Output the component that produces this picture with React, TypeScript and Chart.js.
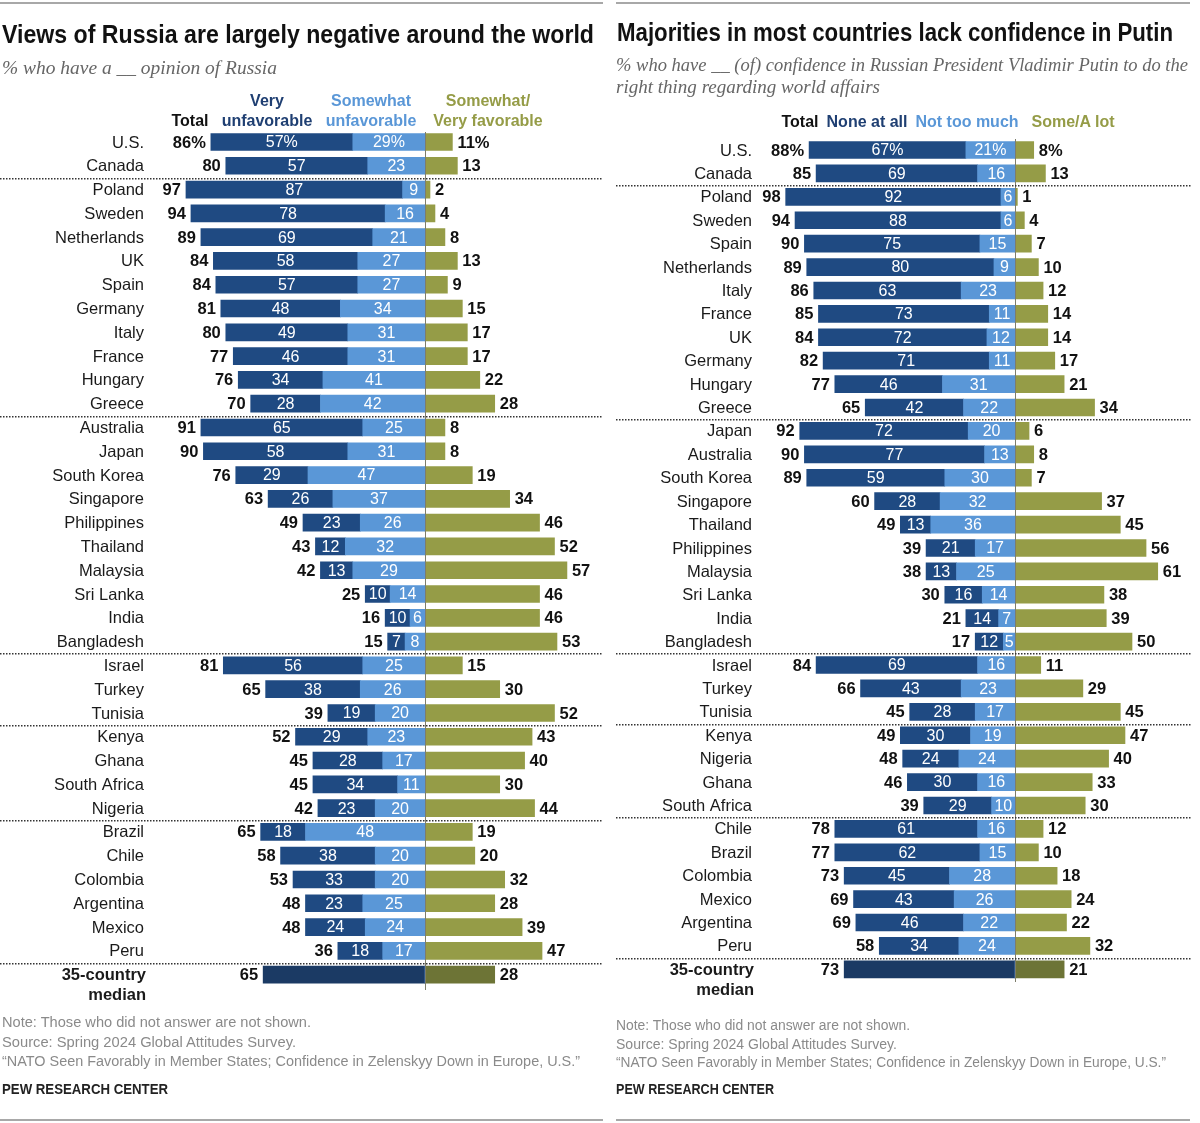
import React, { useEffect, useLayoutEffect, useRef } from "react";
import { Chart, registerables } from "chart.js";
Chart.register(...registerables);

// ---------------- Data: views of Russia ----------------
const RUSSIA_COUNTRIES = ["U.S.", "Canada", "Poland", "Sweden", "Netherlands", "UK", "Spain", "Germany", "Italy", "France", "Hungary", "Greece", "Australia", "Japan", "South Korea", "Singapore", "Philippines", "Thailand", "Malaysia", "Sri Lanka", "India", "Bangladesh", "Israel", "Turkey", "Tunisia", "Kenya", "Ghana", "South Africa", "Nigeria", "Brazil", "Chile", "Colombia", "Argentina", "Mexico", "Peru"];
const RUSSIA_TOTAL_UNFAV = [86, 80, 97, 94, 89, 84, 84, 81, 80, 77, 76, 70, 91, 90, 76, 63, 49, 43, 42, 25, 16, 15, 81, 65, 39, 52, 45, 45, 42, 65, 58, 53, 48, 48, 36];
const RUSSIA_VERY_UNFAV = [57, 57, 87, 78, 69, 58, 57, 48, 49, 46, 34, 28, 65, 58, 29, 26, 23, 12, 13, 10, 10, 7, 56, 38, 19, 29, 28, 34, 23, 18, 38, 33, 23, 24, 18];
const RUSSIA_SOMEWHAT_UNFAV = [29, 23, 9, 16, 21, 27, 27, 34, 31, 31, 41, 42, 25, 31, 47, 37, 26, 32, 29, 14, 6, 8, 25, 26, 20, 23, 17, 11, 20, 48, 20, 20, 25, 24, 17];
const RUSSIA_FAVORABLE = [11, 13, 2, 4, 8, 13, 9, 15, 17, 17, 22, 28, 8, 8, 19, 34, 46, 52, 57, 46, 46, 53, 15, 30, 52, 43, 40, 30, 44, 19, 20, 32, 28, 39, 47];
const RUSSIA_MEDIAN_UNFAV = 65;
const RUSSIA_MEDIAN_FAV = 28;

// ---------------- Data: confidence in Putin ----------------
const PUTIN_COUNTRIES = ["U.S.", "Canada", "Poland", "Sweden", "Spain", "Netherlands", "Italy", "France", "UK", "Germany", "Hungary", "Greece", "Japan", "Australia", "South Korea", "Singapore", "Thailand", "Philippines", "Malaysia", "Sri Lanka", "India", "Bangladesh", "Israel", "Turkey", "Tunisia", "Kenya", "Nigeria", "Ghana", "South Africa", "Chile", "Brazil", "Colombia", "Mexico", "Argentina", "Peru"];
const PUTIN_TOTAL_NO_CONF = [88, 85, 98, 94, 90, 89, 86, 85, 84, 82, 77, 65, 92, 90, 89, 60, 49, 39, 38, 30, 21, 17, 84, 66, 45, 49, 48, 46, 39, 78, 77, 73, 69, 69, 58];
const PUTIN_NONE_AT_ALL = [67, 69, 92, 88, 75, 80, 63, 73, 72, 71, 46, 42, 72, 77, 59, 28, 13, 21, 13, 16, 14, 12, 69, 43, 28, 30, 24, 30, 29, 61, 62, 45, 43, 46, 34];
const PUTIN_NOT_TOO_MUCH = [21, 16, 6, 6, 15, 9, 23, 11, 12, 11, 31, 22, 20, 13, 30, 32, 36, 17, 25, 14, 7, 5, 16, 23, 17, 19, 24, 16, 10, 16, 15, 28, 26, 22, 24];
const PUTIN_SOME_A_LOT = [8, 13, 1, 4, 7, 10, 12, 14, 14, 17, 21, 34, 6, 8, 7, 37, 45, 56, 61, 38, 39, 50, 11, 29, 45, 47, 40, 33, 30, 12, 10, 18, 24, 22, 32];
const PUTIN_MEDIAN_NO_CONF = 73;
const PUTIN_MEDIAN_CONF = 21;

// last row index of each regional group (dotted separator drawn after it)
const GROUP_ENDS = [1, 11, 21, 24, 28, 34];
const MEDIAN_LABEL = ["35-country", "median"];

// ---------------- Styles ----------------
const H = 1123;
const C = {
  strong: "#1f4a82",
  mid: "#5a97d7",
  pos: "#959c47",
  medianBlue: "#1b3a64",
  medianOlive: "#6d7436",
  zero: "#7d7d6a",
  text: "#111111",
};
const SANS = "'Liberation Sans', Arial, sans-serif";
const SERIF = "'Liberation Serif', 'DejaVu Serif', serif";

type Cfg = {
  left: number; width: number; zero: number; px: number; xMin: number; xMax: number;
  rowTop: number; rowStep: number; countryX: number; sepX0: number; sepX1: number;
  zeroTop: number; zeroBottom: number;
};

const LEFT_CFG: Cfg = { left: 0, width: 605, zero: 425, px: 2.49, xMin: -110, xMax: 70, rowTop: 142, rowStep: 23.79, countryX: 144, sepX0: 0, sepX1: 601, zeroTop: 132, zeroBottom: 990 };
const RIGHT_CFG: Cfg = { left: 605, width: 595, zero: 1015, px: 2.34, xMin: -110, xMax: 75, rowTop: 150, rowStep: 23.41, countryX: 752, sepX0: 616, sepX1: 1190, zeroTop: 139, zeroBottom: 982 };

type PanelData = {
  countries: string[]; total: number[]; strong: number[]; mid: number[]; pos: number[];
  medianTotal: number; medianPos: number; names: string[];
};

const RUSSIA: PanelData = {
  countries: RUSSIA_COUNTRIES, total: RUSSIA_TOTAL_UNFAV, strong: RUSSIA_VERY_UNFAV, mid: RUSSIA_SOMEWHAT_UNFAV,
  pos: RUSSIA_FAVORABLE, medianTotal: RUSSIA_MEDIAN_UNFAV, medianPos: RUSSIA_MEDIAN_FAV,
  names: ["Very unfavorable", "Somewhat unfavorable", "Somewhat/Very favorable"],
};
const PUTIN: PanelData = {
  countries: PUTIN_COUNTRIES, total: PUTIN_TOTAL_NO_CONF, strong: PUTIN_NONE_AT_ALL, mid: PUTIN_NOT_TOO_MUCH,
  pos: PUTIN_SOME_A_LOT, medianTotal: PUTIN_MEDIAN_NO_CONF, medianPos: PUTIN_MEDIAN_CONF,
  names: ["None at all", "Not too much", "Some/A lot"],
};

function makeLabelPlugin(cfg: Cfg, d: PanelData) {
  return {
    id: "rowLabels",
    afterDatasetsDraw(chart: any) {
      const ctx = chart.ctx as CanvasRenderingContext2D;
      const xs = chart.scales.x;
      const ys = chart.scales.y;
      const n = d.countries.length + 1;
      const off = cfg.left;
      ctx.save();
      // zero line
      const x0 = Math.round(xs.getPixelForValue(0)) + 0.5;
      ctx.strokeStyle = C.zero;
      ctx.lineWidth = 1;
      ctx.beginPath();
      ctx.moveTo(x0, cfg.zeroTop);
      ctx.lineTo(x0, cfg.zeroBottom);
      ctx.stroke();
      // dotted separators
      ctx.fillStyle = "#333";
      for (const g of GROUP_ENDS) {
        const y = Math.round((ys.getPixelForValue(g) + ys.getPixelForValue(g + 1)) / 2);
        for (let x = cfg.sepX0 - off; x < cfg.sepX1 - off; x += 3) ctx.fillRect(x, y, 1.5, 1.5);
      }
      const m0 = chart.getDatasetMeta(0);
      const m1 = chart.getDatasetMeta(1);
      const m2 = chart.getDatasetMeta(2);
      ctx.textBaseline = "middle";
      for (let i = 0; i < n; i++) {
        const y = ys.getPixelForValue(i) + 1;
        const isMedian = i === n - 1;
        const pct = i === 0 ? "%" : "";
        // country label
        ctx.fillStyle = "#1a1a1a";
        ctx.textAlign = "right";
        if (isMedian) {
          ctx.font = `bold 16.5px ${SANS}`;
          ctx.fillText(MEDIAN_LABEL[0], cfg.countryX - off + 2, y);
          ctx.fillText(MEDIAN_LABEL[1], cfg.countryX - off + 2, y + 20);
        } else {
          ctx.font = `16.5px ${SANS}`;
          ctx.fillText(d.countries[i], cfg.countryX - off, y);
        }
        const eMid = m0.data[i];
        const eStrong = m1.data[i];
        const ePos = m2.data[i];
        // segment labels
        ctx.fillStyle = "#ffffff";
        ctx.textAlign = "center";
        ctx.font = `16px ${SANS}`;
        if (!isMedian) {
          ctx.fillText(String(d.mid[i]) + pct, (eMid.x + eMid.base) / 2, y);
          ctx.fillText(String(d.strong[i]) + pct, (eStrong.x + eStrong.base) / 2, y);
        }
        // total label
        const leftEdge = Math.min(eStrong.x, eMid.x);
        const totalVal = isMedian ? d.medianTotal : d.total[i];
        ctx.fillStyle = C.text;
        ctx.font = `bold 16.5px ${SANS}`;
        ctx.textAlign = "right";
        ctx.fillText(String(totalVal) + pct, leftEdge - 5, y);
        // positive label
        const posVal = isMedian ? d.medianPos : d.pos[i];
        ctx.textAlign = "left";
        ctx.fillText(String(posVal) + pct, ePos.x + 5, y);
      }
      ctx.restore();
    },
  };
}

function BarPanel({ cfg, data }: { cfg: Cfg; data: PanelData }) {
  const ref = useRef<HTMLCanvasElement>(null);
  useEffect(() => {
    const canvas = ref.current!;
    const n = data.countries.length + 1;
    const labels = [...data.countries, MEDIAN_LABEL.join(" ")];
    const zeroL = cfg.zero - cfg.left;
    const padLeft = zeroL - cfg.px * -cfg.xMin;
    const padRight = cfg.width - (zeroL + cfg.px * cfg.xMax);
    const padTop = cfg.rowTop - cfg.rowStep / 2;
    const padBottom = H - (padTop + n * cfg.rowStep);
    const chart = new Chart(canvas, {
      type: "bar",
      data: {
        labels,
        datasets: [
          { label: data.names[1], data: [...data.mid.map((v) => -v), 0], backgroundColor: [...data.mid.map(() => C.mid), C.mid] },
          { label: data.names[0], data: [...data.strong.map((v) => -v), -data.medianTotal], backgroundColor: [...data.strong.map(() => C.strong), C.medianBlue] },
          { label: data.names[2], data: [...data.pos, data.medianPos], backgroundColor: [...data.pos.map(() => C.pos), C.medianOlive] },
        ],
      },
      options: {
        indexAxis: "y",
        responsive: false,
        animation: false,
        devicePixelRatio: 1,
        events: [],
        layout: { padding: { left: padLeft, right: padRight, top: padTop, bottom: padBottom } },
        scales: {
          x: { stacked: true, min: cfg.xMin, max: cfg.xMax, display: false },
          y: { stacked: true, display: false },
        },
        plugins: { legend: { display: false }, tooltip: { enabled: false } },
        datasets: { bar: { barThickness: 17, borderWidth: 0 } },
      } as any,
      plugins: [makeLabelPlugin(cfg, data)],
    });
    return () => chart.destroy();
  }, []);
  return (
    <canvas
      ref={ref}
      width={cfg.width}
      height={H}
      style={{ position: "absolute", left: cfg.left, top: 0, width: cfg.width, height: H }}
    />
  );
}

// Text positioned by its vertical centre; optionally fitted to a target width.
function Txt({ x, y, size, children, color = "#111", weight = 400, italic = false, font = SANS, fit, align = "left" }: any) {
  const ref = useRef<HTMLDivElement>(null);
  useLayoutEffect(() => {
    const el = ref.current!;
    let k = 1;
    if (fit) {
      const w = el.getBoundingClientRect().width;
      if (w > 0) k = fit / w;
    }
    const tx = align === "center" ? "translateX(-50%) " : align === "right" ? "translateX(-100%) " : "";
    el.style.transform = `${tx}translateY(-50%) scaleX(${k})`;
  }, []);
  return (
    <div
      ref={ref}
      style={{
        position: "absolute", left: x, top: y, fontSize: size, lineHeight: 1, whiteSpace: "nowrap",
        color, fontWeight: weight, fontStyle: italic ? "italic" : "normal", fontFamily: font,
        transformOrigin: align === "center" ? "center center" : align === "right" ? "right center" : "left center",
      }}
    >
      {children}
    </div>
  );
}

export default function App() {
  const noteColor = "#8a8a8a";
  return (
    <div style={{ position: "absolute", left: 0, top: 0, width: 1200, height: H, background: "#fff", overflow: "hidden" }}>
      {/* frame lines */}
      <div style={{ position: "absolute", left: 0, top: 2, width: 603, height: 2, background: "#a8a8a8" }} />
      <div style={{ position: "absolute", left: 616, top: 2, width: 574, height: 2, background: "#a8a8a8" }} />
      <div style={{ position: "absolute", left: 0, top: 1119, width: 603, height: 2, background: "#a8a8a8" }} />
      <div style={{ position: "absolute", left: 616, top: 1119, width: 574, height: 2, background: "#a8a8a8" }} />

      <BarPanel cfg={LEFT_CFG} data={RUSSIA} />
      <BarPanel cfg={RIGHT_CFG} data={PUTIN} />

      {/* Left panel texts */}
      <Txt x={2} y={34} size={26} weight={700} fit={592}>Views of Russia are largely negative around the world</Txt>
      <Txt x={2} y={68} size={18} italic font={SERIF} color="#666" fit={275}>% who have a __ opinion of Russia</Txt>
      <Txt x={190} y={121} size={16} weight={700} align="center">Total</Txt>
      <Txt x={267} y={101} size={16} weight={700} align="center" color="#1f3f72">Very</Txt>
      <Txt x={267} y={121} size={16} weight={700} align="center" color="#1f3f72">unfavorable</Txt>
      <Txt x={371} y={101} size={16} weight={700} align="center" color="#5a97d7">Somewhat</Txt>
      <Txt x={371} y={121} size={16} weight={700} align="center" color="#5a97d7">unfavorable</Txt>
      <Txt x={488} y={101} size={16} weight={700} align="center" color="#959c47">Somewhat/</Txt>
      <Txt x={488} y={121} size={16} weight={700} align="center" color="#959c47">Very favorable</Txt>
      <Txt x={2} y={1022} size={14} color={noteColor} fit={309}>Note: Those who did not answer are not shown.</Txt>
      <Txt x={2} y={1042} size={14} color={noteColor} fit={294}>Source: Spring 2024 Global Attitudes Survey.</Txt>
      <Txt x={2} y={1061} size={14} color={noteColor} fit={578}>“NATO Seen Favorably in Member States; Confidence in Zelenskyy Down in Europe, U.S.”</Txt>
      <Txt x={2} y={1089} size={14} weight={700} color="#222" fit={166}>PEW RESEARCH CENTER</Txt>

      {/* Right panel texts */}
      <Txt x={617} y={32} size={26} weight={700} fit={556}>Majorities in most countries lack confidence in Putin</Txt>
      <Txt x={616} y={65} size={18} italic font={SERIF} color="#666" fit={572}>% who have __ (of) confidence in Russian President Vladimir Putin to do the</Txt>
      <Txt x={616} y={87} size={18} italic font={SERIF} color="#666" fit={264}>right thing regarding world affairs</Txt>
      <Txt x={800} y={122} size={16} weight={700} align="center">Total</Txt>
      <Txt x={867} y={122} size={16} weight={700} align="center" color="#1f3f72">None at all</Txt>
      <Txt x={967} y={122} size={16} weight={700} align="center" color="#5a97d7">Not too much</Txt>
      <Txt x={1073} y={122} size={16} weight={700} align="center" color="#959c47">Some/A lot</Txt>
      <Txt x={616} y={1025} size={14} color={noteColor} fit={294}>Note: Those who did not answer are not shown.</Txt>
      <Txt x={616} y={1044} size={14} color={noteColor} fit={281}>Source: Spring 2024 Global Attitudes Survey.</Txt>
      <Txt x={616} y={1062} size={14} color={noteColor} fit={550}>“NATO Seen Favorably in Member States; Confidence in Zelenskyy Down in Europe, U.S.”</Txt>
      <Txt x={616} y={1089} size={14} weight={700} color="#222" fit={158}>PEW RESEARCH CENTER</Txt>
    </div>
  );
}
